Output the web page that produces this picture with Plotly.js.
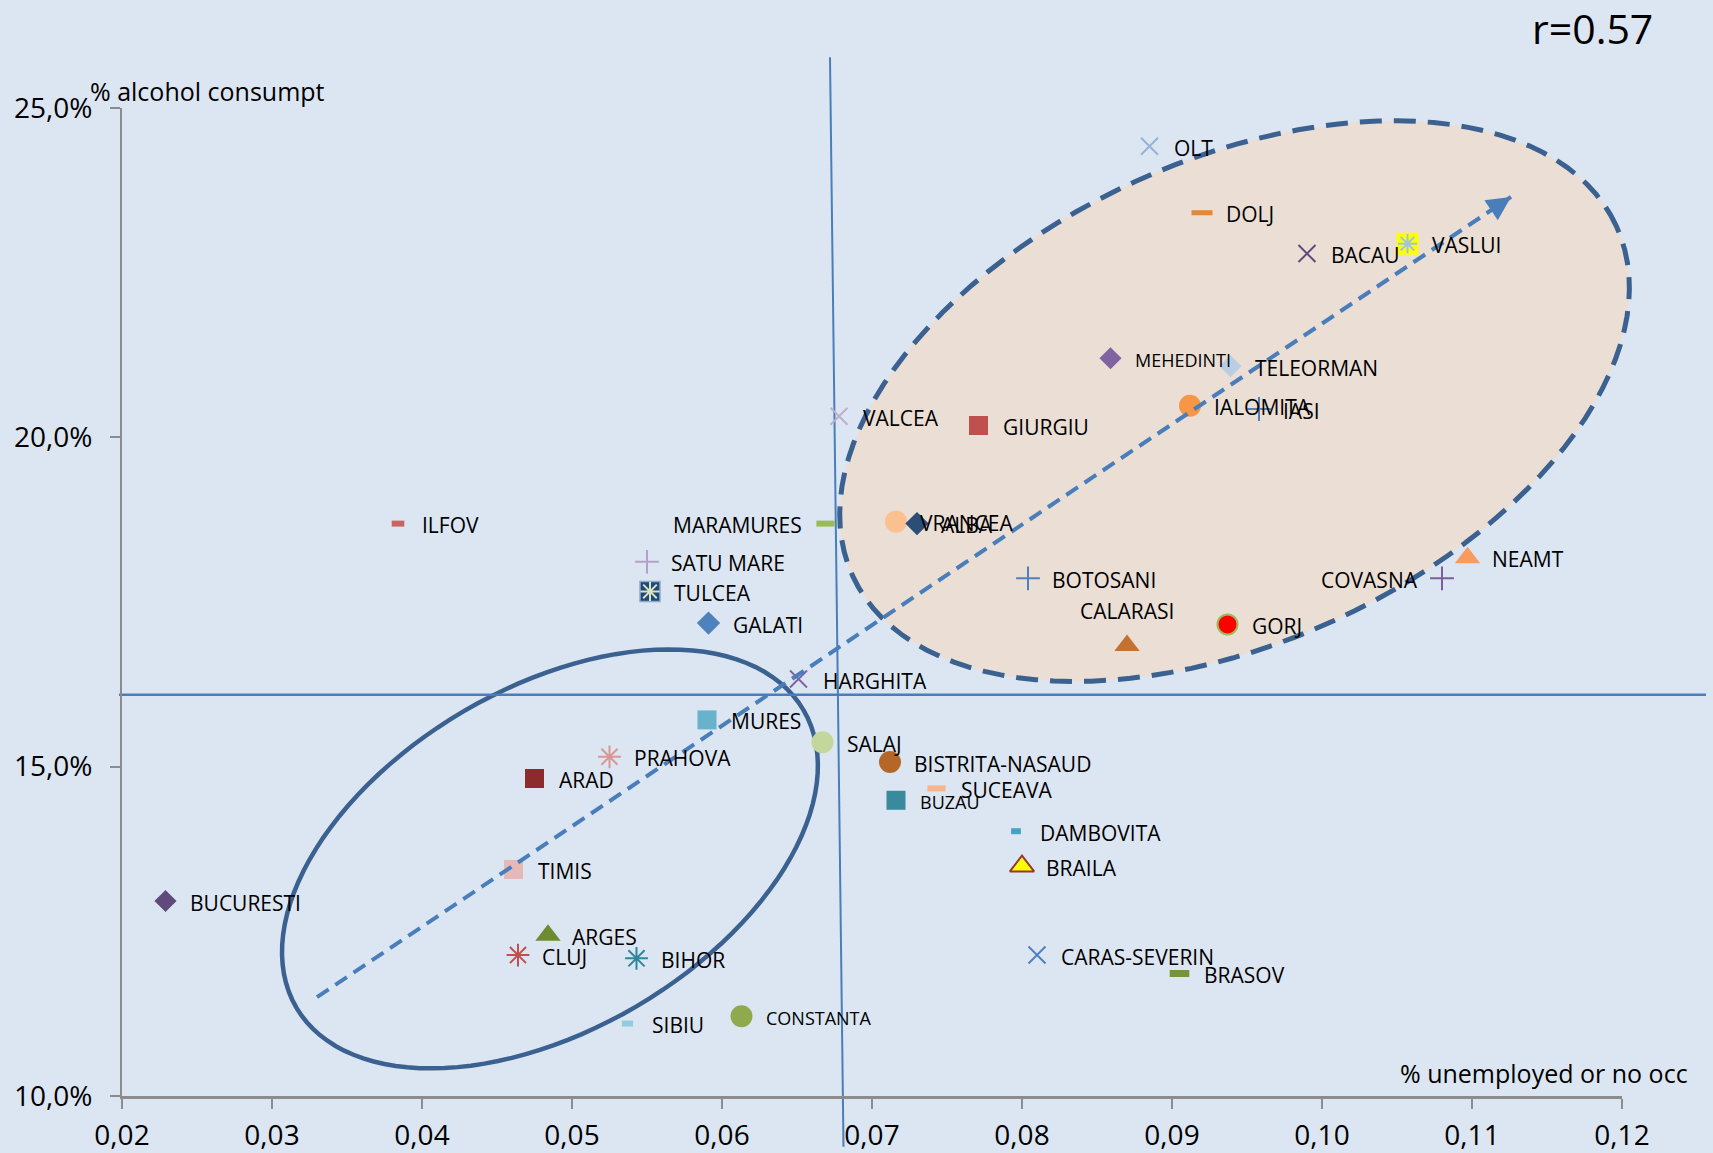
<!DOCTYPE html>
<html>
<head>
<meta charset="utf-8">
<script src="https://cdn.plot.ly/plotly-3.0.1.min.js"></script>
<style>
  html, body { margin: 0; padding: 0; background: #DCE6F2; }
  #chart { width: 1713px; height: 1153px; }
</style>
</head>
<body>
<div id="chart"></div>
<script>
// Romanian counties: unemployment share vs. alcohol consumption share
const counties = [
  'OLT', 'DOLJ', 'BACAU', 'VASLUI', 'MEHEDINTI', 'TELEORMAN', 'IALOMITA', 'IASI',
  'VALCEA', 'GIURGIU', 'ILFOV', 'MARAMURES', 'VRANCEA', 'ALBA', 'SATU MARE', 'TULCEA',
  'GALATI', 'BOTOSANI', 'COVASNA', 'NEAMT', 'CALARASI', 'GORJ', 'HARGHITA', 'MURES',
  'SALAJ', 'PRAHOVA', 'BISTRITA-NASAUD', 'ARAD', 'SUCEAVA', 'BUZAU', 'DAMBOVITA', 'BRAILA',
  'TIMIS', 'BUCURESTI', 'ARGES', 'CLUJ', 'BIHOR', 'CARAS-SEVERIN', 'BRASOV', 'CONSTANTA', 'SIBIU'
];
const unemployment = [
  0.0885, 0.0920, 0.0990, 0.1057, 0.0859, 0.0939, 0.0912, 0.0958,
  0.0678, 0.0771, 0.0384, 0.0669, 0.0716, 0.0730, 0.0550, 0.0552,
  0.0591, 0.0804, 0.1080, 0.1097, 0.0870, 0.0937, 0.0651, 0.0590,
  0.0667, 0.0525, 0.0712, 0.0475, 0.0743, 0.0716, 0.0796, 0.0800,
  0.0461, 0.0229, 0.0484, 0.0464, 0.0543, 0.0810, 0.0905, 0.0613, 0.0537
];
const alcohol = [
  0.2442, 0.2341, 0.2279, 0.2294, 0.2120, 0.2108, 0.2048, 0.2043,
  0.2032, 0.2018, 0.1869, 0.1869, 0.1872, 0.1869, 0.1811, 0.1766,
  0.1718, 0.1786, 0.1786, 0.1817, 0.1684, 0.1716, 0.1633, 0.1571,
  0.1537, 0.1515, 0.1507, 0.1482, 0.1467, 0.1449, 0.1402, 0.1349,
  0.1344, 0.1296, 0.1244, 0.1214, 0.1209, 0.1214, 0.1186, 0.1121, 0.1110
];
const xTicks = [0.02, 0.03, 0.04, 0.05, 0.06, 0.07, 0.08, 0.09, 0.10, 0.11, 0.12];
const yTicks = [0.10, 0.15, 0.20, 0.25];
const correlationText = 'r=0.57';

// marker look per county: [symbol, colour, size, outline colour, outline width]
const markerLook = {
  'OLT': ['x-thin-open', '#95B3D7', 17, null, 2],
  'DOLJ': ['line-ew-open', '#E3873A', 15, null, 5],
  'BACAU': ['x-thin-open', '#5F4A7B', 17, null, 2],
  'VASLUI': ['square', '#FFFF00', 22, null, 0],
  'MEHEDINTI': ['diamond', '#8064A2', 17, null, 0],
  'TELEORMAN': ['diamond', '#B9CDE5', 17, null, 0],
  'IALOMITA': ['circle', '#F79646', 22, null, 0],
  'IASI': ['cross-thin-open', '#4F81BD', 17, null, 2],
  'VALCEA': ['x-thin-open', '#BFAFCB', 17, null, 2],
  'GIURGIU': ['square', '#C0504D', 19, null, 0],
  'ILFOV': ['line-ew-open', '#C96464', 9, null, 6],
  'MARAMURES': ['line-ew-open', '#9BBB59', 13, null, 6],
  'VRANCEA': ['circle', '#FAC090', 22, null, 0],
  'ALBA': ['diamond', '#2C4D75', 18, null, 0],
  'SATU MARE': ['cross-thin-open', '#B3A2C7', 17, null, 2],
  'TULCEA': ['square', '#1F497D', 20, '#8EA9C8', 1.5],
  'GALATI': ['diamond', '#4F81BD', 18, null, 0],
  'BOTOSANI': ['cross-thin-open', '#4F81BD', 17, null, 2],
  'COVASNA': ['cross-thin-open', '#7B5EA0', 17, null, 2],
  'NEAMT': ['triangle-up', '#F79C5E', 22, null, 0],
  'CALARASI': ['triangle-up', '#C27233', 22, null, 0],
  'GORJ': ['circle', '#FF0000', 20, '#9BBB59', 2],
  'HARGHITA': ['x-thin-open', '#8064A2', 17, null, 2],
  'MURES': ['square', '#68B3CB', 19, null, 0],
  'SALAJ': ['circle', '#C3D69B', 22, null, 0],
  'PRAHOVA': ['asterisk-open', '#DA9694', 19, null, 2],
  'BISTRITA-NASAUD': ['circle', '#B5672A', 22, null, 0],
  'ARAD': ['square', '#8B2B2B', 19, null, 0],
  'SUCEAVA': ['line-ew-open', '#F9B48A', 13, null, 6],
  'BUZAU': ['square', '#3A8A9E', 19, null, 0],
  'DAMBOVITA': ['line-ew-open', '#43A3C2', 7, null, 6],
  'BRAILA': ['triangle-up', '#FFFF00', 21, '#953735', 2],
  'TIMIS': ['square', '#E6B9B8', 19, null, 0],
  'BUCURESTI': ['diamond', '#604A7B', 17, null, 0],
  'ARGES': ['triangle-up', '#6E8B32', 22, null, 0],
  'CLUJ': ['asterisk-open', '#C0504D', 19, null, 2],
  'BIHOR': ['asterisk-open', '#31859C', 19, null, 2],
  'CARAS-SEVERIN': ['x-thin-open', '#4F81BD', 17, null, 2],
  'BRASOV': ['line-ew-open', '#77933C', 14, null, 7],
  'CONSTANTA': ['circle', '#8FAA4C', 22, null, 0],
  'SIBIU': ['line-ew-open', '#93CDDD', 8, null, 6]
};
// star drawn on top of a few filled squares
const markerInlay = { 'VASLUI': '#9DC3E6', 'TULCEA': '#D7E4BD' };
// labels that do not sit to the right of their marker
const labelSide = { 'MARAMURES': 'left', 'COVASNA': 'left', 'CALARASI': 'top' };
const smallLabels = ['MEHEDINTI', 'CONSTANTA', 'BUZAU'];

// axis frame
const X_RANGE = [0.02, 0.12];
const Y_RANGE = [0.10, 0.25];
const FIG_W = 1713, FIG_H = 1153;
const MARGIN = { l: 122, r: 91, t: 108, b: 57, pad: 0 };
const PLOT_W = FIG_W - MARGIN.l - MARGIN.r;
const PLOT_H = FIG_H - MARGIN.t - MARGIN.b;
const toPaperX = v => (v - X_RANGE[0]) / (X_RANGE[1] - X_RANGE[0]);
const toPaperY = v => (v - Y_RANGE[0]) / (Y_RANGE[1] - Y_RANGE[0]);

// mean cross-hair lines (data units)
const meanY = 0.1609, meanYSpan = [0.0198, 0.1256];
const meanXTop = [0.0672, 0.2577], meanXBottom = [0.0681, 0.0923];
// dashed trend arrow (data units)
const trendFrom = [0.0330, 0.1150], trendTo = [0.1126, 0.2365];
// highlighted groups: centre (data units), semi-axes (px), tilt (deg)
const highGroup = { c: [0.09417, 0.2055], a: 420, b: 241, tilt: 24.6 };
const lowGroup = { c: [0.04853, 0.1360], a: 294, b: 171, tilt: 30.4 };

function ellipsePath(e) {
  const cx = toPaperX(e.c[0]), cy = toPaperY(e.c[1]);
  const th = e.tilt * Math.PI / 180;
  const pts = [];
  for (let i = 0; i < 120; i++) {
    const t = 2 * Math.PI * i / 120;
    const dx = e.a * Math.cos(th) * Math.cos(t) - e.b * Math.sin(th) * Math.sin(t);
    const dy = e.a * Math.sin(th) * Math.cos(t) + e.b * Math.cos(th) * Math.sin(t);
    pts.push((cx + dx / PLOT_W).toFixed(5) + ',' + (cy + dy / PLOT_H).toFixed(5));
  }
  return 'M' + pts.join('L') + 'Z';
}

const look = counties.map(c => markerLook[c]);

const markerTrace = {
  type: 'scatter', mode: 'markers',
  x: unemployment, y: alcohol, text: counties,
  cliponaxis: false, hoverinfo: 'text',
  marker: {
    symbol: look.map(s => s[0]),
    color: look.map(s => s[1]),
    size: look.map(s => s[2]),
    opacity: 1,
    line: {
      color: look.map(s => s[3] || s[1]),
      width: look.map(s => s[4])
    }
  }
};

const inlayIdx = counties.map((c, i) => i).filter(i => markerInlay[counties[i]]);
const inlayTrace = {
  type: 'scatter', mode: 'markers',
  x: inlayIdx.map(i => unemployment[i]), y: inlayIdx.map(i => alcohol[i]),
  cliponaxis: false, hoverinfo: 'skip',
  marker: {
    symbol: 'asterisk-open', size: 16,
    color: inlayIdx.map(i => markerInlay[counties[i]]),
    line: { width: 2 }
  }
};

// county names placed next to their markers
const labelFont = { family: 'Open Sans, sans-serif', color: '#000000' };
const countyLabels = counties.map((c, i) => {
  const side = labelSide[c] || 'right';
  const a = {
    xref: 'x', yref: 'y', x: unemployment[i], y: alcohol[i], text: c, showarrow: false,
    font: Object.assign({}, labelFont, { size: smallLabels.includes(c) ? 18 : 21 }),
    borderpad: 0, borderwidth: 0
  };
  if (side === 'left') Object.assign(a, { xanchor: 'right', yanchor: 'middle', xshift: -24, yshift: -1.5 });
  else if (side === 'top') Object.assign(a, { xanchor: 'center', yanchor: 'bottom', yshift: 20 });
  else Object.assign(a, { xanchor: 'left', yanchor: 'middle', xshift: 24, yshift: -1.5 });
  return a;
});

const shapes = [
  { type: 'path', xref: 'paper', yref: 'paper', layer: 'below', path: ellipsePath(highGroup),
    fillcolor: '#EADED5', line: { color: '#3B6190', width: 5, dash: '22px,12px' } },
  { type: 'path', xref: 'paper', yref: 'paper', layer: 'below', path: ellipsePath(lowGroup),
    fillcolor: 'rgba(0,0,0,0)', line: { color: '#3B6190', width: 4.5 } },
  { type: 'line', xref: 'paper', yref: 'paper', layer: 'below',
    x0: toPaperX(meanYSpan[0]), x1: toPaperX(meanYSpan[1]), y0: toPaperY(meanY), y1: toPaperY(meanY),
    line: { color: '#4A7EBB', width: 2.5 } },
  { type: 'line', xref: 'paper', yref: 'paper', layer: 'below',
    x0: toPaperX(meanXTop[0]), y0: toPaperY(meanXTop[1]),
    x1: toPaperX(meanXBottom[0]), y1: toPaperY(meanXBottom[1]),
    line: { color: '#4A7EBB', width: 2 } },
  { type: 'line', xref: 'x', yref: 'y', layer: 'above',
    x0: trendFrom[0], y0: trendFrom[1], x1: trendTo[0], y1: trendTo[1],
    line: { color: '#4A7EBB', width: 4, dash: '14px,8px' } }
];

const annotations = countyLabels.concat([
  { xref: 'x', yref: 'y', x: trendTo[0], y: trendTo[1], text: '', showarrow: true,
    ax: -14, ay: 9.4, arrowhead: 2, arrowsize: 1.2, arrowwidth: 4, arrowcolor: '#4A7EBB' },
  { xref: 'paper', yref: 'paper', x: -0.0227, y: 1.0172, xanchor: 'left', yanchor: 'middle',
    text: '% alcohol consumpt', showarrow: false,
    font: { family: 'Open Sans, sans-serif', size: 25, color: '#000000' } },
  { xref: 'paper', yref: 'paper', x: 1.0453, y: 0.0233, xanchor: 'right', yanchor: 'middle',
    text: '% unemployed or no occ', showarrow: false,
    font: { family: 'Open Sans, sans-serif', size: 25, color: '#000000' } },
  { xref: 'paper', yref: 'paper', x: 0.98, y: 1.0808, xanchor: 'center', yanchor: 'middle',
    text: correlationText, showarrow: false, borderpad: 0, borderwidth: 0,
    font: { family: 'Open Sans, sans-serif', size: 41, color: '#000000' } }
]);

const axisCommon = {
  showgrid: false, zeroline: false, showline: true,
  linecolor: '#8C8C8C', ticks: 'outside', ticklen: 10, tickwidth: 2, tickcolor: '#8C8C8C',
  tickfont: { family: 'Open Sans, sans-serif', size: 28, color: '#000000' },
  fixedrange: true
};

const layout = {
  width: FIG_W, height: FIG_H,
  margin: MARGIN,
  paper_bgcolor: '#DCE6F2', plot_bgcolor: '#DCE6F2',
  separators: ',.',
  showlegend: false,
  xaxis: Object.assign({}, axisCommon, {
    range: X_RANGE, tickvals: xTicks, tickformat: '.2f', linewidth: 3, ticklabelstandoff: 2
  }),
  yaxis: Object.assign({}, axisCommon, {
    range: Y_RANGE, tickvals: yTicks, tickformat: '.1%', linewidth: 2, ticklabelstandoff: 12
  }),
  shapes: shapes,
  annotations: annotations
};

Plotly.newPlot('chart', [markerTrace, inlayTrace], layout, { displayModeBar: false, staticPlot: true });
</script>
</body>
</html>
